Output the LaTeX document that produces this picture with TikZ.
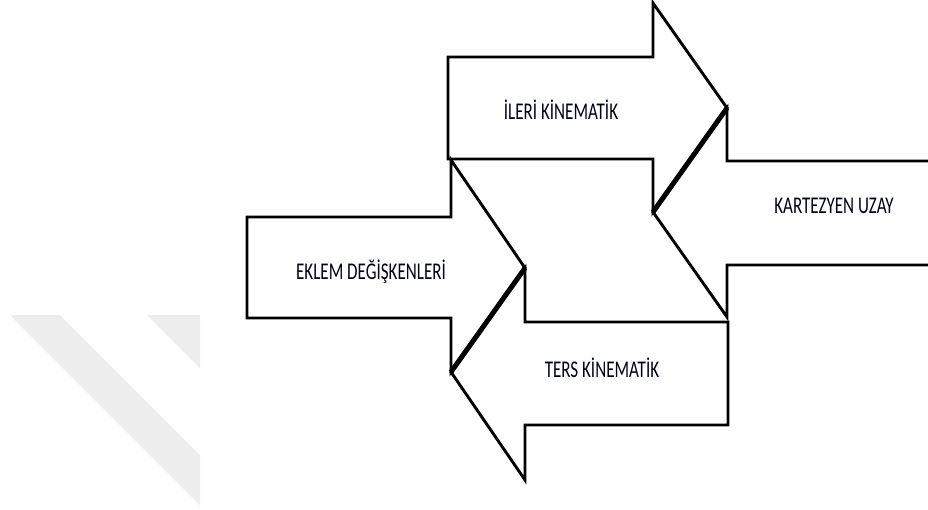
\documentclass[tikz,border=0pt]{standalone}
\usepackage{fontspec}
\setmainfont{Carlito}
\usepackage{graphicx}
\begin{document}
\begin{tikzpicture}[x=1pt,y=-1pt,
  shp/.style={draw=black,fill=white,line width=2.9pt,line join=miter},
  wm/.style={fill=black!7,draw=none},
  thk/.style={draw=black,line width=5pt},
  lbl/.style={font=\fontsize{24}{26}\selectfont,text=black!88!blue,anchor=base,inner sep=0pt}]
\useasboundingbox (0,0) rectangle (928,509);
% watermark
\fill[wm] (10,315) -- (60,315) -- (200,455) -- (200,505) -- cycle;
\fill[wm] (147,315) -- (200,315) -- (200,368) -- cycle;
% key points
\coordinate (it) at (727,108);
\coordinate (ib) at (653,212);
\coordinate (et) at (525,268);
\coordinate (eb) at (451,372);
% ILERI KINEMATIK (right)
\draw[shp] (448,57) -- (653,57) -- (653,3) -- (it) -- (ib) -- (653,159) -- (448,159) -- cycle;
% KARTEZYEN UZAY (left)
\draw[shp] (940,161) -- (727,161) -- (it) -- (ib) -- (727,317) -- (727,265) -- (940,265);
% EKLEM DEGISKENLERI (right)
\draw[shp] (247,217) -- (451,217) -- (451,160) -- (et) -- (eb) -- (451,318) -- (247,318) -- cycle;
% TERS KINEMATIK (left)
\draw[shp] (728,322) -- (525,322) -- (et) -- (eb) -- (525,480) -- (525,425) -- (728,425) -- cycle;
% thick shared edges
\draw[thk] (it) -- (ib);
\draw[thk] (et) -- (eb);
% labels
\node[lbl] (ileri) at (561,119) {\scalebox{0.71}[1]{İLERİ KİNEMATİK}};
\node[lbl] (eklem) at (371,279) {\scalebox{0.71}[1]{EKLEM DEĞİŞKENLERİ}};
\node[lbl] (kart) at (834,213) {\scalebox{0.71}[1]{KARTEZYEN UZAY}};
\node[lbl] (ters) at (602,377) {\scalebox{0.71}[1]{TERS KİNEMATİK}};
\end{tikzpicture}
\end{document}
